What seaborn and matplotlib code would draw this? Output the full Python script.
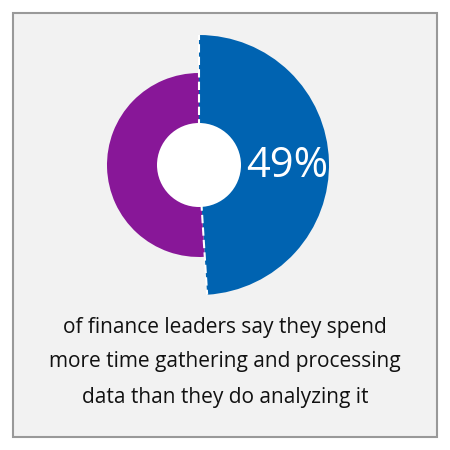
import numpy as np
import matplotlib.pyplot as plt
import seaborn as sns
from matplotlib.patches import Rectangle, Circle

# data
labels = ['Gathering & processing', 'Other']
shares = [49, 51]
headline = "49%"
caption = ["of finance leaders say they spend",
           "more time gathering and processing",
           "data than they do analyzing it"]

sns.set_theme(style="white")
plt.rcParams['font.family'] = ['Open Sans', 'DejaVu Sans']

blue = "#0063b1"
purple = "#881798"

fig = plt.figure(figsize=(4.5, 4.5), dpi=100)
ax = fig.add_axes([0, 0, 1, 1])

# background panel
ax.add_patch(Rectangle((13, 13), 424, 424, facecolor="#f2f2f2",
                       edgecolor="#999999", lw=1.5, zorder=0))

cx, cy = 199, 285
# big blue slice, small purple slice
ax.pie(shares, colors=[blue, 'none'], radius=130, center=(cx, cy),
       startangle=90, counterclock=False, frame=True,
       wedgeprops=dict(linewidth=0))
ax.pie(shares, colors=['none', purple], radius=92, center=(cx, cy),
       startangle=90, counterclock=False, frame=True,
       wedgeprops=dict(linewidth=0))
ax.set_xlim(0, 450)
ax.set_ylim(0, 450)
ax.set_aspect('equal')
ax.axis('off')

# white dashed separators along the blue edges
end_ang = np.deg2rad(90 - 360 * shares[0] / sum(shares))
for ang in [np.pi / 2, end_ang]:
    ax.plot([cx, cx + 130 * np.cos(ang)], [cy, cy + 130 * np.sin(ang)],
            color="white", lw=1.5, ls=(0, (4, 2)), zorder=5)

ax.add_patch(Circle((cx, cy), 42, facecolor="white", edgecolor="none", zorder=6))

ax.text(287, 284, headline, color="white", fontsize=30, ha="center",
        va="center", zorder=7)

for i, line in enumerate(caption):
    ax.text(225, 123 - i * 35, line, color="#111111", fontsize=15,
            ha="center", va="center")

fig.savefig("out.png", dpi=100)
plt.close()
